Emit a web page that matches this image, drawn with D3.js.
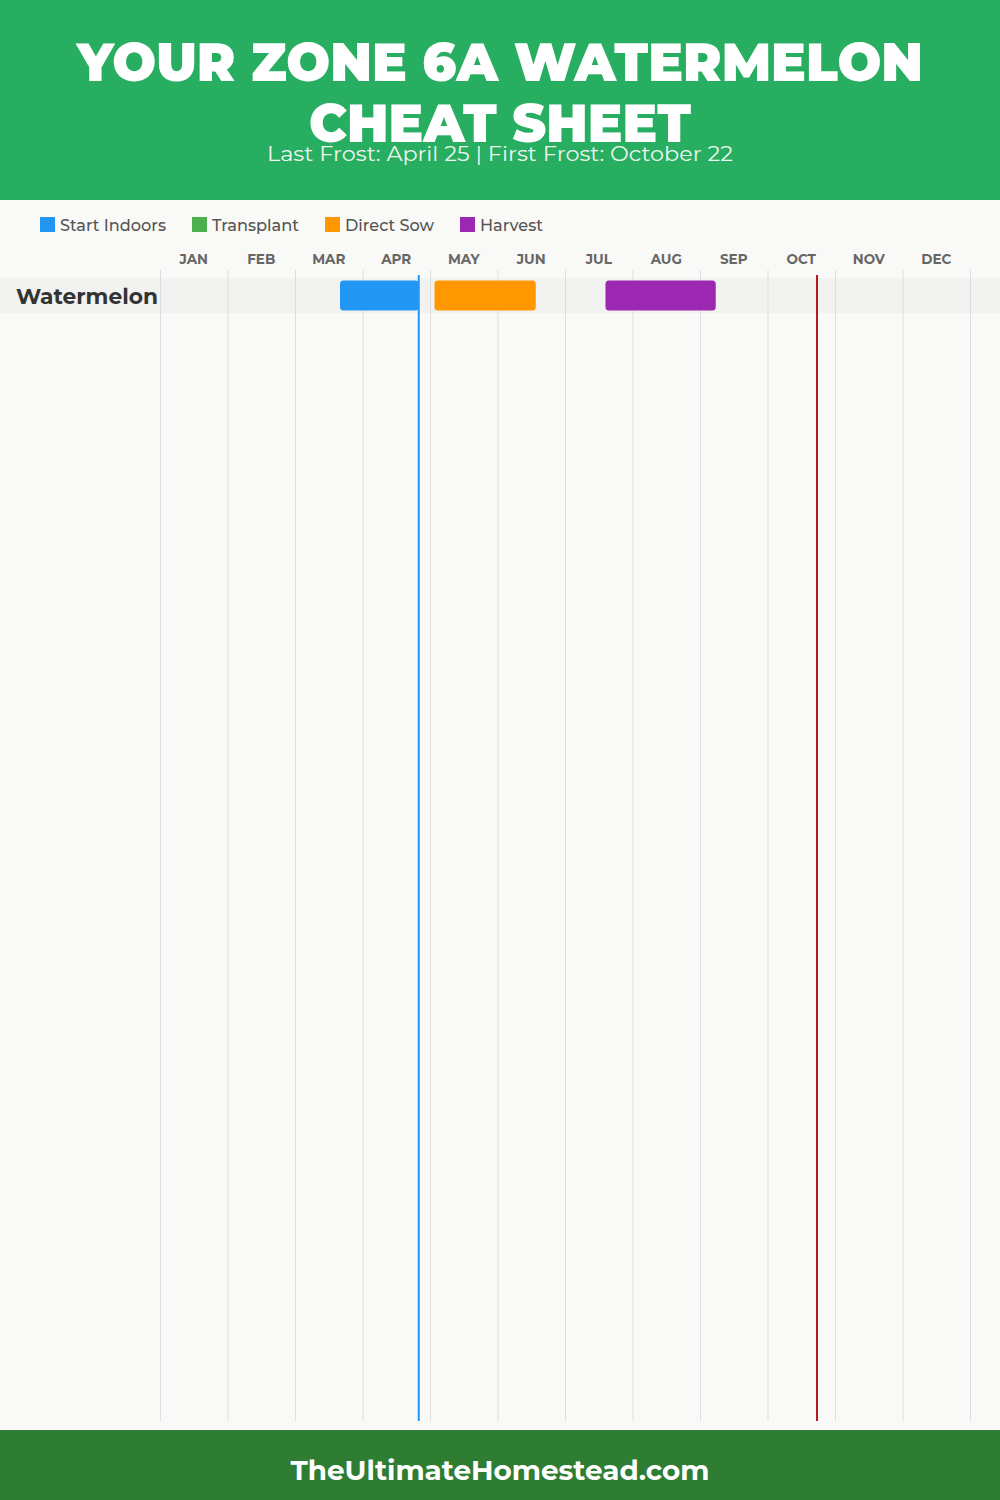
<!DOCTYPE html>
<html><head><meta charset="utf-8">
<script src="https://cdn.jsdelivr.net/npm/d3@7"></script>
<style>
html,body{margin:0;padding:0;background:#f9f9f7;}
svg{display:block;}
</style></head>
<body>
<svg id="chart" width="1000" height="1500"></svg>
<script>
// ---- data ----
const titleLines = ["YOUR ZONE 6A WATERMELON", "CHEAT SHEET"];
const subtitle = "Last Frost: April 25 | First Frost: October 22";
const footerText = "TheUltimateHomestead.com";
const months = ["JAN","FEB","MAR","APR","MAY","JUN","JUL","AUG","SEP","OCT","NOV","DEC"];
const stages = ["Start Indoors","Transplant","Direct Sow","Harvest"];
const stageColors = ["#2196f3","#4caf50","#ff9800","#9c27b0"];
const crops = ["Watermelon"];
const taskCrop  = ["Watermelon","Watermelon","Watermelon"];
const taskStage = ["Start Indoors","Direct Sow","Harvest"];
const taskStart = ["03-20","05-02","07-18"];
const taskEnd   = ["04-25","06-17","09-07"];
const lastFrost = "04-25";
const firstFrost = "10-22";

// ---- helpers ----
const toMonth = s => { const [m,d] = s.split("-").map(Number); return (m-1) + d/30; };
const FONT = "Montserrat, Inter, 'Open Sans', sans-serif";

const svg = d3.select("#chart");
const W = 1000, H = 1500;

svg.append("rect").attr("width",W).attr("height",H).attr("fill","#f9f9f7");

// header
svg.append("rect").attr("x",0).attr("y",0).attr("width",W).attr("height",200).attr("fill","#27ae60");
const titleWidths = [846, 382];
const titleBase = [81, 142];
titleLines.forEach((t,i)=>{
  svg.append("text").text(t)
    .attr("x",W/2).attr("y",titleBase[i]).attr("text-anchor","middle")
    .attr("font-family",FONT).attr("font-weight",900).attr("font-size",53)
    .attr("fill","#ffffff")
    .attr("textLength",titleWidths[i]).attr("lengthAdjust","spacingAndGlyphs");
});
svg.append("text").text(subtitle)
  .attr("x",W/2).attr("y",161).attr("text-anchor","middle")
  .attr("font-family",FONT).attr("font-weight",400).attr("font-size",20)
  .attr("fill","#eef6f0")
  .attr("textLength",466).attr("lengthAdjust","spacingAndGlyphs");

// legend
const legendX = [40,192,325,460];
const legendW = [106,87,89,63];
const lg = svg.append("g");
stages.forEach((s,i)=>{
  lg.append("rect").attr("x",legendX[i]).attr("y",217).attr("width",15).attr("height",15).attr("fill",stageColors[i]);
  lg.append("text").text(s).attr("x",legendX[i]+20).attr("y",231)
    .attr("font-family",FONT).attr("font-weight",500).attr("font-size",16.5).attr("fill","#555")
    .attr("textLength",legendW[i]).attr("lengthAdjust","spacingAndGlyphs");
});

// scales
const x = d3.scaleLinear().domain([0,12]).range([160,970]);
const y = d3.scaleBand().domain(crops).range([278,313]).padding(0);

// row band
svg.selectAll("rect.row").data(crops).join("rect").attr("class","row")
  .attr("x",0).attr("y",d=>y(d)).attr("width",W).attr("height",y.bandwidth()).attr("fill","#f2f2f0");

// grid
svg.selectAll("line.grid").data(d3.range(13)).join("line").attr("class","grid")
  .attr("x1",d=>x(d)+0.5).attr("x2",d=>x(d)+0.5).attr("y1",270).attr("y2",1421)
  .attr("stroke","#dedede").attr("stroke-width",1);

// month labels
svg.selectAll("text.month").data(months).join("text").attr("class","month")
  .text(d=>d).attr("x",(d,i)=>x(i+0.5)).attr("y",264).attr("text-anchor","middle")
  .attr("font-family",FONT).attr("font-weight",700).attr("font-size",13.5).attr("fill","#666");

// crop labels
svg.selectAll("text.crop").data(crops).join("text").attr("class","crop")
  .text(d=>d).attr("x",16).attr("y",d=>y(d)+y.bandwidth()/2+8)
  .attr("font-family",FONT).attr("font-weight",700).attr("font-size",21).attr("fill","#333")
  .attr("textLength",142).attr("lengthAdjust","spacingAndGlyphs");

// bars
const tasks = taskCrop.map((c,i)=>({crop:c, stage:taskStage[i], s:toMonth(taskStart[i]), e:toMonth(taskEnd[i])}));
svg.selectAll("rect.bar").data(tasks).join("rect").attr("class","bar")
  .attr("x",d=>x(d.s)).attr("y",d=>y(d.crop)+2.5).attr("width",d=>x(d.e)-x(d.s)).attr("height",y.bandwidth()-5)
  .attr("rx",3.5).attr("fill",d=>stageColors[stages.indexOf(d.stage)]);

// frost lines
svg.append("line").attr("x1",x(toMonth(lastFrost))).attr("x2",x(toMonth(lastFrost)))
  .attr("y1",275).attr("y2",1421).attr("stroke","#2196f3").attr("stroke-width",2);
svg.append("line").attr("x1",x(toMonth(firstFrost))).attr("x2",x(toMonth(firstFrost)))
  .attr("y1",275).attr("y2",1421).attr("stroke","#b71c1c").attr("stroke-width",2);

// footer
svg.append("rect").attr("x",0).attr("y",1430).attr("width",W).attr("height",70).attr("fill","#2e7d32");
svg.append("text").text(footerText).attr("x",W/2).attr("y",1480).attr("text-anchor","middle")
  .attr("font-family",FONT).attr("font-weight",700).attr("font-size",27).attr("fill","#fff")
  .attr("textLength",419).attr("lengthAdjust","spacingAndGlyphs");
</script>
</body></html>
